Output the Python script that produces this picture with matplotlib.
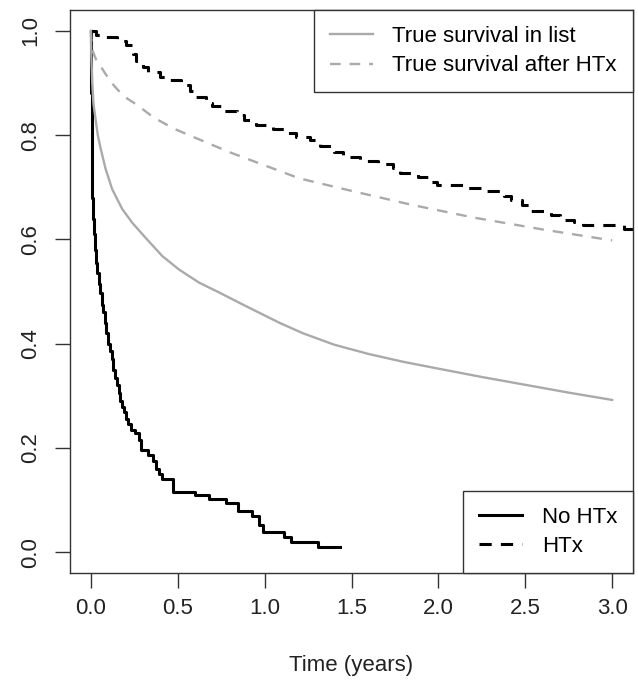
import numpy as np
import matplotlib.pyplot as plt

plt.rcParams['font.family'] = ['Liberation Sans', 'DejaVu Sans']

# Kaplan-Meier style step curves (time in years, survival)
no_htx_t = [0.0, 0.002, 0.004, 0.006, 0.009, 0.012, 0.018, 0.024, 0.030, 0.038,
            0.046, 0.055, 0.063, 0.07, 0.08, 0.09, 0.10, 0.11, 0.12, 0.13,
            0.14, 0.15, 0.16, 0.17, 0.18, 0.19, 0.205, 0.215, 0.23, 0.255,
            0.275, 0.29, 0.33, 0.355, 0.375, 0.395, 0.41, 0.475, 0.60, 0.68,
            0.78, 0.845, 0.93, 0.97, 0.99, 1.11, 1.15, 1.31, 1.435]
no_htx_s = [1.0, 0.88, 0.80, 0.75, 0.68, 0.64, 0.61, 0.58, 0.555, 0.535,
            0.515, 0.498, 0.475, 0.46, 0.44, 0.42, 0.40, 0.385, 0.37, 0.35,
            0.335, 0.32, 0.305, 0.29, 0.278, 0.268, 0.255, 0.245, 0.235, 0.228,
            0.215, 0.195, 0.186, 0.175, 0.16, 0.15, 0.14, 0.116, 0.110, 0.101,
            0.094, 0.079, 0.07, 0.052, 0.039, 0.030, 0.019, 0.010, 0.010]

htx_t = [0.0, 0.03, 0.08, 0.15, 0.20, 0.24, 0.26, 0.30, 0.33, 0.40,
         0.45, 0.52, 0.57, 0.60, 0.66, 0.70, 0.76, 0.84, 0.88, 0.95,
         1.05, 1.12, 1.18, 1.26, 1.32, 1.40, 1.45, 1.55, 1.65, 1.74,
         1.78, 1.88, 1.95, 1.99, 2.15, 2.25, 2.38, 2.42, 2.48, 2.52,
         2.65, 2.70, 2.78, 2.83, 3.07, 3.20]
htx_s = [1.0, 0.993, 0.988, 0.98, 0.972, 0.955, 0.943, 0.93, 0.922, 0.912,
         0.905, 0.896, 0.885, 0.874, 0.862, 0.855, 0.847, 0.838, 0.829, 0.82,
         0.812, 0.805, 0.797, 0.79, 0.78, 0.768, 0.758, 0.751, 0.745, 0.736,
         0.727, 0.719, 0.71, 0.704, 0.698, 0.692, 0.683, 0.675, 0.665, 0.655,
         0.646, 0.638, 0.633, 0.628, 0.62, 0.62]

# true (smooth) survival curves
true_list_t = [0, 0.003, 0.008, 0.015, 0.027, 0.04, 0.056, 0.085, 0.123, 0.181,
               0.238, 0.315, 0.411, 0.508, 0.623, 0.739, 0.892, 1.085, 1.22, 1.4,
               1.6, 1.8, 2.0, 2.25, 2.5, 2.75, 3.0]
true_list_s = [1.0, 0.95, 0.90, 0.86, 0.831, 0.80, 0.775, 0.735, 0.696, 0.658,
               0.632, 0.603, 0.568, 0.542, 0.517, 0.498, 0.472, 0.44, 0.42, 0.398,
               0.38, 0.365, 0.352, 0.336, 0.321, 0.306, 0.292]

true_htx_t = [0, 0.004, 0.01, 0.03, 0.06, 0.085, 0.12, 0.16, 0.21, 0.27,
              0.36, 0.48, 0.6, 0.8, 1.0, 1.2, 1.5, 1.85, 2.2, 2.6, 3.0]
true_htx_s = [1.0, 0.975, 0.962, 0.945, 0.93, 0.917, 0.90, 0.885, 0.87, 0.857,
              0.834, 0.812, 0.795, 0.767, 0.742, 0.717, 0.693, 0.666, 0.642, 0.619, 0.598]

xticks = [0.0, 0.5, 1.0, 1.5, 2.0, 2.5, 3.0]
yticks = [0.0, 0.2, 0.4, 0.6, 0.8, 1.0]

grey = '#aaaaaa'
fs = 16

fig = plt.figure(figsize=(6.38, 6.86), dpi=100)
ax = fig.add_axes([70 / 638, 1 - 573 / 686, 563 / 638, 563 / 686])

l_nohtx, = ax.step(no_htx_t, no_htx_s, where='post', color='black', lw=2.2)
l_htx, = ax.step(htx_t, htx_s, where='post', color='black', lw=2.2,
                 linestyle=(0, (4, 3)))
l_tl, = ax.plot(true_list_t, true_list_s, color=grey, lw=1.7)
l_th, = ax.plot(true_htx_t, true_htx_s, color=grey, lw=1.7,
                linestyle=(0, (4.5, 3.8)))

ax.set_xlim(-0.12, 3.12)
ax.set_ylim(-0.04, 1.04)
ax.set_xticks(xticks)
ax.set_xticklabels(['%.1f' % v for v in xticks])
ax.set_yticks(yticks)
ax.set_yticklabels(['%.1f' % v for v in yticks], rotation=90, va='center')
ax.tick_params(axis='both', labelsize=fs, length=10.5, width=1, color='#333333',
               labelcolor='#222222')
ax.tick_params(axis='x', pad=7.5)
ax.tick_params(axis='y', pad=10)
for sp in ax.spines.values():
    sp.set_color('#333333')
    sp.set_linewidth(1)
ax.set_xlabel('Time (years)', fontsize=fs, labelpad=26, color='#222222')

leg_kw = dict(fontsize=fs, frameon=True, fancybox=False, framealpha=1,
              edgecolor='#333333', borderaxespad=0, borderpad=0.72,
              handlelength=1.9, handletextpad=0.9, labelspacing=0.38)
leg1 = ax.legend([l_tl, l_th], ['True survival in list', 'True survival after HTx'],
                 loc='upper right', **leg_kw)
leg1.get_frame().set_linewidth(1)
ax.add_artist(leg1)
leg2 = ax.legend([l_nohtx, l_htx], ['No HTx', 'HTx'], loc='lower right', **leg_kw)
leg2.get_frame().set_linewidth(1)

fig.savefig('out.png', dpi=100)
